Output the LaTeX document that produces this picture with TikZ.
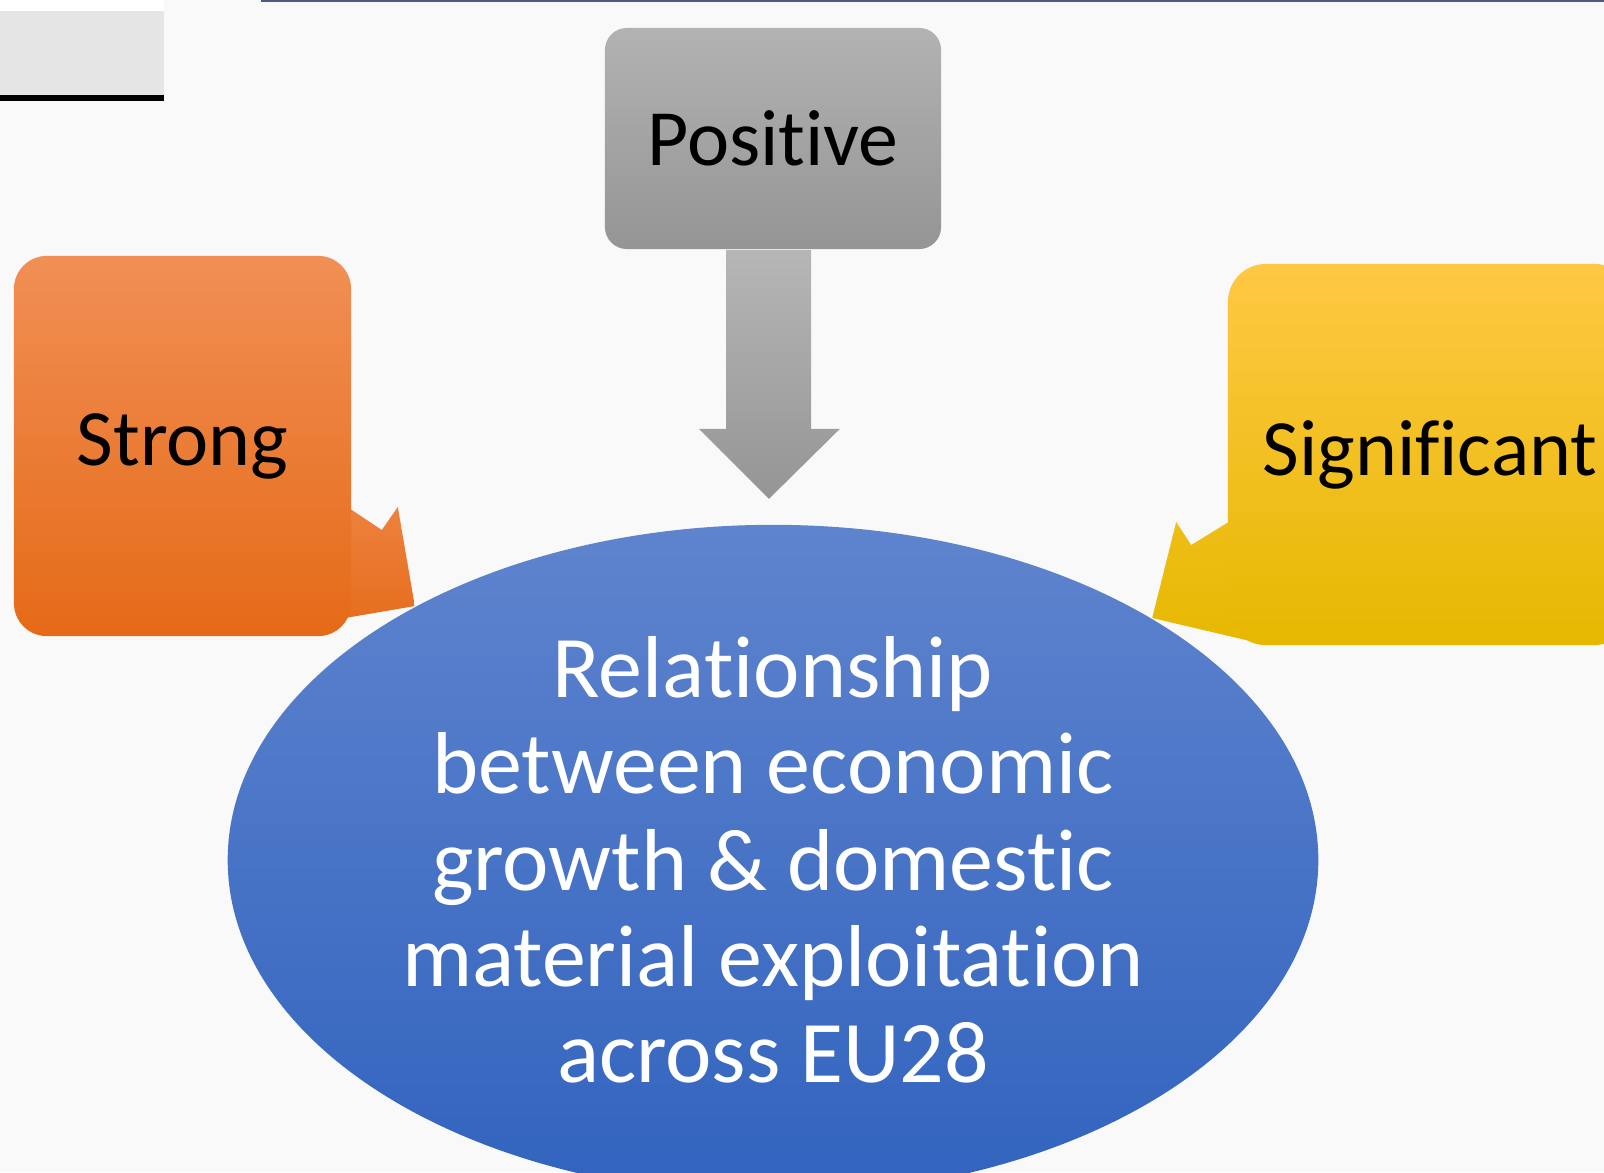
\documentclass[tikz,border=0pt]{standalone}
\usepackage{fontspec}
\setmainfont{Carlito}[Ligatures=CommonOff]
\usepackage{tikz}
\usetikzlibrary{calc}
\usetikzlibrary{shapes.geometric}
\usetikzlibrary{backgrounds}
\usepackage{xcolor}

\definecolor{pagebg}{HTML}{F9F9F9}
\definecolor{rulebar}{HTML}{4C5C7A}
\definecolor{greytop}{HTML}{B2B2B2}
\definecolor{greybot}{HTML}{959595}
\definecolor{orangetop}{HTML}{F18F55}
\definecolor{orangebot}{HTML}{E56A17}
\definecolor{yellowtop}{HTML}{FFC844}
\definecolor{yellowbot}{HTML}{E6B800}
\definecolor{bluetop}{HTML}{5F84CE}
\definecolor{bluebot}{HTML}{3163BE}

\begin{document}
\begin{tikzpicture}[x=0.01cm, y=-0.01cm,
        every node/.style={font=\fontsize{22.7}{27.4}\selectfont},
        box/.style={rectangle, inner sep=0pt, align=center},
        core/.style={ellipse, inner sep=0pt, align=center, text=white,
          font=\fontsize{25}{27.4}\selectfont,
          minimum width=10.9cm, minimum height=6.7cm, top color=bluetop, bottom color=bluebot}]

        \useasboundingbox (0,0) rectangle (1604,1172);

        \node[box, rounded corners=0.22cm, minimum width=3.36cm, minimum height=2.21cm,
          top color=greytop, bottom color=greybot] (pos) at (773,138.5) {Positive};
        \node[box, rounded corners=0.33cm, minimum width=3.37cm, minimum height=3.80cm,
          top color=orangetop, bottom color=orangebot] (strong) at (182.5,446) {Strong};
        \node[box, rounded corners=0.38cm, minimum width=4.04cm, minimum height=3.81cm,
          top color=yellowtop, bottom color=yellowbot] (sig) at (1430,454.5) {Significant};

        \shade[top color=greytop!95!white, bottom color=greybot]
          ($(pos.south)+(-47,0)$) -- ($(pos.south)+(38,0)$) -- ($(pos.south)+(38,179)$)
          -- ($(pos.south)+(67,179)$) -- ($(pos.south)+(-4,249)$) -- ($(pos.south)+(-74,179)$)
          -- ($(pos.south)+(-47,179)$) -- cycle;

        \node[core] (rel) at (773,860)
          {Relationship\\between economic\\growth \& domestic\\material exploitation\\across EU28};

        \begin{scope}[on background layer]
          \fill[pagebg] (0,0) rectangle (1604,1172);
          \fill[white] (0,0) rectangle (164,11);
          \fill[black!10] (0,11) rectangle (164,95);
          \fill[black] (0,95) rectangle (164,101);
          \fill[rulebar] (261,0) rectangle (1604,2);

          \shade[top color=orangetop!70!orangebot, bottom color=orangebot!90!orangetop]
            ($(strong.east)+(-30,44)$) -- ($(strong.east)+(30,84)$) -- ($(strong.east)+(46,61)$)
            -- ($(strong.east)+(63,160)$) -- ($(strong.east)+(-30,176)$) -- cycle;
          \shade[top color=yellowtop!40!yellowbot, bottom color=yellowbot]
            ($(sig.west)+(-51,67.5)$) -- ($(sig.west)+(-36,90.5)$) -- ($(sig.west)+(30,50)$)
            -- ($(sig.west)+(40,190.5)$) -- ($(sig.west)+(-75,163.5)$) -- cycle;
        \end{scope}

      \end{tikzpicture}
\end{document}
